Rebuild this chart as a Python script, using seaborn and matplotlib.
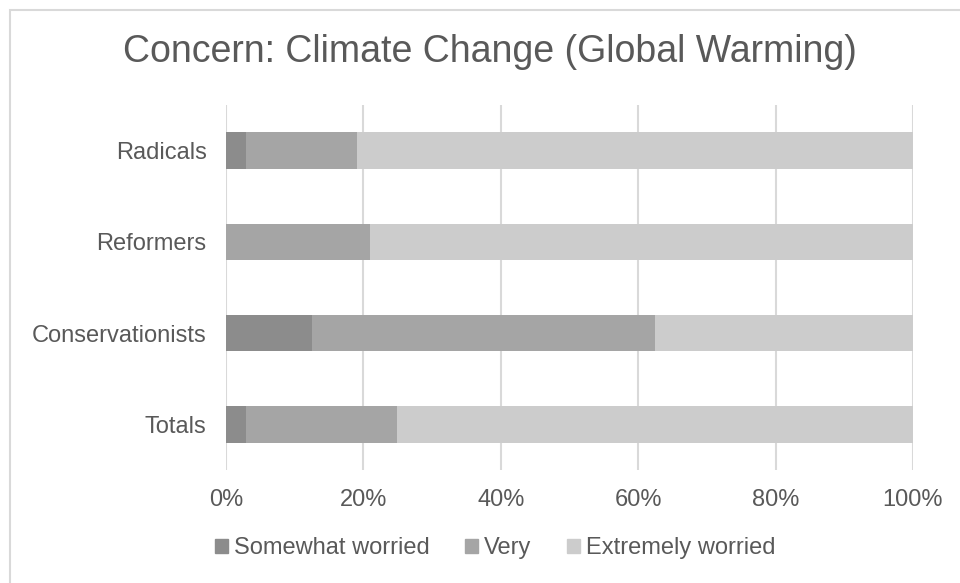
import numpy as np
import pandas as pd
import matplotlib
matplotlib.use("Agg")
import matplotlib.pyplot as plt
from matplotlib.patches import Rectangle
import seaborn as sns

# Share of each group's responses (percent)
groups = ["Radicals", "Reformers", "Conservationists", "Totals"]
somewhat_worried = [2.9, 0.0, 12.5, 2.9]
very = [16.2, 21.0, 50.0, 22.0]
extremely_worried = [80.9, 79.0, 37.5, 75.1]
tick_labels = ["0%", "20%", "40%", "60%", "80%", "100%"]
series_names = ["Somewhat worried", "Very", "Extremely worried"]
series_colors = ["#8c8c8c", "#a5a5a5", "#cccccc"]

sns.set_theme(style="white")
plt.rcParams["font.family"] = ["Liberation Sans", "DejaVu Sans"]
text_color = "#595959"

df = pd.DataFrame({
    "group": groups,
    "somewhat": somewhat_worried,
    "very": very,
    "extremely": extremely_worried,
})
# cumulative right edges of the stacked segments
df["c1"] = df["somewhat"]
df["c2"] = df["c1"] + df["very"]
df["c3"] = df["c2"] + df["extremely"]

fig = plt.figure(figsize=(9.6, 5.83), dpi=100)
ax = fig.add_axes([226 / 960, 1 - 470 / 583, (913 - 226) / 960, 365 / 583])

# draw from the longest cumulative bar to the shortest so segments stack
for col, color in zip(["c3", "c2", "c1"], series_colors[::-1]):
    sns.barplot(data=df, x=col, y="group", order=groups, color=color,
                width=0.4, orient="h", ax=ax, saturation=1, linewidth=0)

ax.set_xlim(0, 100)
ax.set_ylim(3.5, -0.5)
ax.set_xticks(np.linspace(0, 100, len(tick_labels)))
ax.set_xticklabels(tick_labels)
ax.set_xlabel("")
ax.set_ylabel("")
ax.xaxis.grid(True, color="#d9d9d9", linewidth=1.5)
ax.set_axisbelow(True)
for s in ax.spines.values():
    s.set_visible(False)
ax.tick_params(axis="both", length=0, colors=text_color, labelsize=17)
ax.tick_params(axis="x", pad=14)
ax.tick_params(axis="y", pad=14)

fig.text(0.51, 1 - 52 / 583, "Concern: Climate Change (Global Warming)",
         ha="center", va="center", fontsize=27, color=text_color)

handles = [Rectangle((0, 0), 1, 1, color=c) for c in series_colors]
leg = fig.legend(handles, series_names, loc="center", bbox_to_anchor=(0.516, 1 - 548 / 583),
                 ncol=3, frameon=False, fontsize=17, handlelength=0.55, handleheight=0.55,
                 handletextpad=0.25, columnspacing=1.5)
for t in leg.get_texts():
    t.set_color(text_color)

# chart-area border
fig.patches.append(Rectangle((10 / 960, -0.05), 1.2, 1 - 10 / 583 + 0.05,
                             transform=fig.transFigure, fill=False,
                             edgecolor="#d9d9d9", linewidth=1.5))

fig.savefig("out.png", dpi=100)
